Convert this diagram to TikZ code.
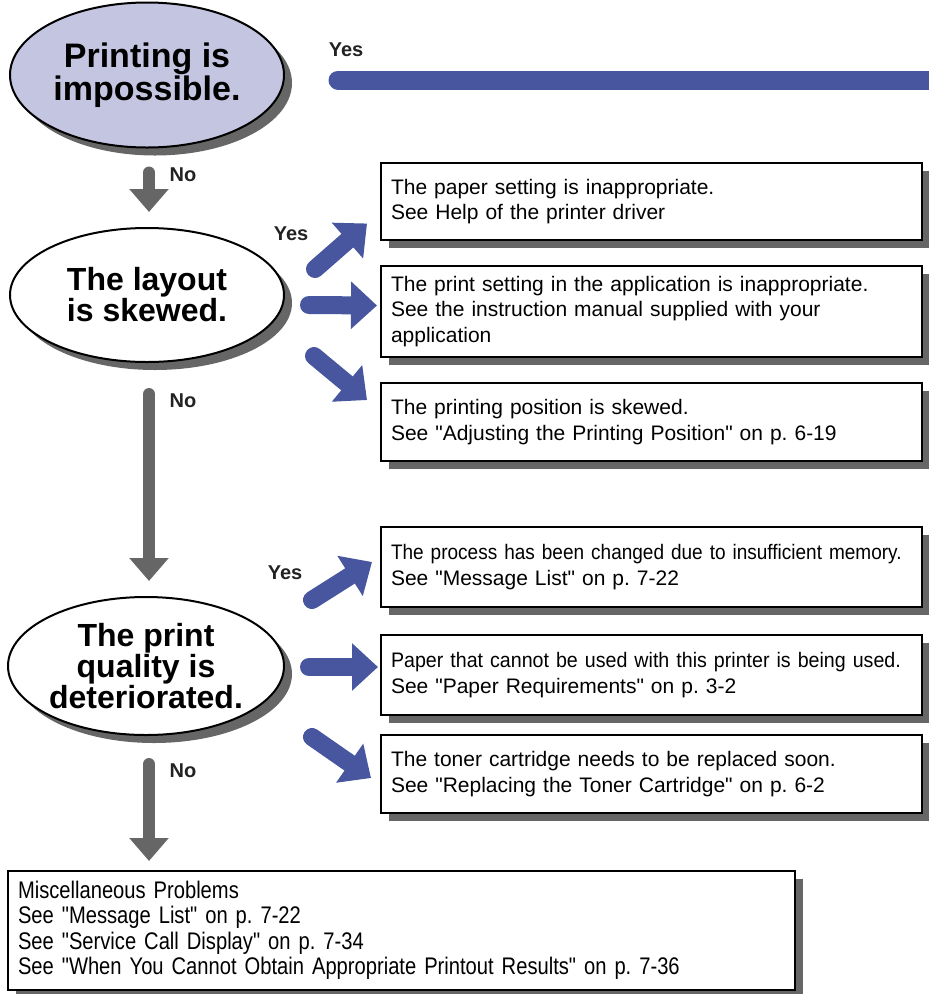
\documentclass[tikz,border=0pt]{standalone}
\usepackage{fontspec}
\setmainfont{Liberation Sans}
\newfontfamily\bodyfont{Liberation Sans}
\newfontfamily\tightA[FakeStretch=0.905]{Liberation Sans}
\newfontfamily\tightB[FakeStretch=0.935]{Liberation Sans}
\newfontfamily\narrowfont[FakeStretch=0.84]{Liberation Sans}
\usetikzlibrary{shapes.geometric,arrows.meta,shadows,calc}
\definecolor{lav}{HTML}{C4C5E0}
\definecolor{barblue}{HTML}{47569E}
\definecolor{shgray}{HTML}{666666}
\definecolor{labelc}{HTML}{222222}
\frenchspacing
\begin{document}
\begin{tikzpicture}[x=1pt,y=-1pt,
  decision/.style={ellipse, draw=black, line width=2pt, fill=white, inner sep=0pt, align=center,
    font=\fontsize{32}{31}\selectfont\bfseries,
    drop shadow={shadow xshift=8pt, shadow yshift=-8pt, fill=shgray, opacity=1}},
  infobox/.style={rectangle, draw=black, line width=2pt, fill=white, inner xsep=10pt, inner ysep=0pt,
    text width=521pt, align=left, font=\bodyfont\fontsize{21}{25.5}\selectfont,
    drop shadow={shadow xshift=8pt, shadow yshift=-8pt, fill=shgray, opacity=1}},
  grayarr/.style={draw=shgray, line width=12pt, line cap=round, -{Triangle[width=38pt,length=23pt]}},
  bluearr/.style={draw=barblue, line width=18pt, line cap=round, -{Triangle[width=46pt,length=26pt]}},
  lbl/.style={font=\fontsize{20}{24}\selectfont\bfseries, text=labelc, inner sep=0pt}
]
\useasboundingbox (0,0) rectangle (929,994);

% decisions
\node[decision, fill=lav, minimum width=274pt, minimum height=145pt, font=\fontsize{34}{33}\selectfont\bfseries] (e1) at (147,75) {Printing is\\impossible.};
\node[decision, minimum width=274pt, minimum height=134pt] (e2) at (147,295) {The layout\\is skewed.};
\node[decision, minimum width=276pt, minimum height=138pt] (e3) at (146,666) {The print\\quality is\\deteriorated.};

% info boxes
\node[infobox, minimum height=77pt] (b1) at (651.5,201.5) {The paper setting is inappropriate.\\See Help of the printer driver};
\node[infobox, minimum height=91pt] (b2) at (651.5,311.5) {The print setting in the application is inappropriate.\\See the instruction manual supplied with your\\application};
\node[infobox, minimum height=78pt] (b3) at (651.5,422) {The printing position is skewed.\\See "Adjusting the Printing Position" on p. 6-19};
\node[infobox, minimum height=80pt] (b4) at (651.5,567) {\mbox{\tightA The process has been changed due to insufficient memory.}\\See "Message List" on p. 7-22};
\node[infobox, minimum height=80pt] (b5) at (651.5,675) {\mbox{\tightB Paper that cannot be used with this printer is being used.}\\See "Paper Requirements" on p. 3-2};
\node[infobox, minimum height=78pt] (b6) at (651.5,774) {The toner cartridge needs to be replaced soon.\\See "Replacing the Toner Cartridge" on p. 6-2};
\node[infobox, text width=767pt, minimum height=119pt, font=\narrowfont\fontsize{24}{25.5}\selectfont] (bot) at (401.5,930.5)
  {Miscellaneous Problems\\See "Message List" on p. 7-22\\See "Service Call Display" on p. 7-34\\See "When You Cannot Obtain Appropriate Printout Results" on p. 7-36};

% top Yes bar
\coordinate (barend) at (940,80);
\draw[draw=barblue, line width=19pt, line cap=round] ([shift={(53,5)}]e1.east) -- (barend);
\node[lbl] (y0) at (346,50) {Yes};

% No arrows
\draw[grayarr] ([shift={(2,24)}]e1.south) -- ([shift={(2,-15)}]e2.north);
\node[lbl] (n1) at (183,175) {No};
\draw[grayarr] ([shift={(2,31)}]e2.south) -- ([shift={(3,-15)}]e3.north);
\node[lbl] (n2) at (183,401) {No};
\draw[grayarr] ([shift={(3,28)}]e3.south) -- ($(e3.south |- bot.north)+(3,-9)$);
\node[lbl] (n3) at (183,771) {No};

% Yes arrows upper
\node[lbl] (y1) at (291,234) {Yes};
\draw[bluearr] ([shift={(30,-26)}]e2.east) -- ([shift={(-13,22)}]b1.west);
\draw[bluearr] ([shift={(24,10)}]e2.east) -- ([shift={(-3,-6)}]b2.west);
\draw[bluearr] ([shift={(29,61)}]e2.east) -- ([shift={(-13,-22)}]b3.west);

% Yes arrows lower
\node[lbl] (y2) at (285,573) {Yes};
\draw[bluearr] ([shift={(27,-66)}]e3.east) -- ([shift={(-8,-5)}]b4.west);
\draw[bluearr] ([shift={(24,1)}]e3.east) -- ([shift={(-2,-8)}]b5.west);
\draw[bluearr] ([shift={(27,71)}]e3.east) -- ([shift={(-9,4)}]b6.west);
\end{tikzpicture}
\end{document}
